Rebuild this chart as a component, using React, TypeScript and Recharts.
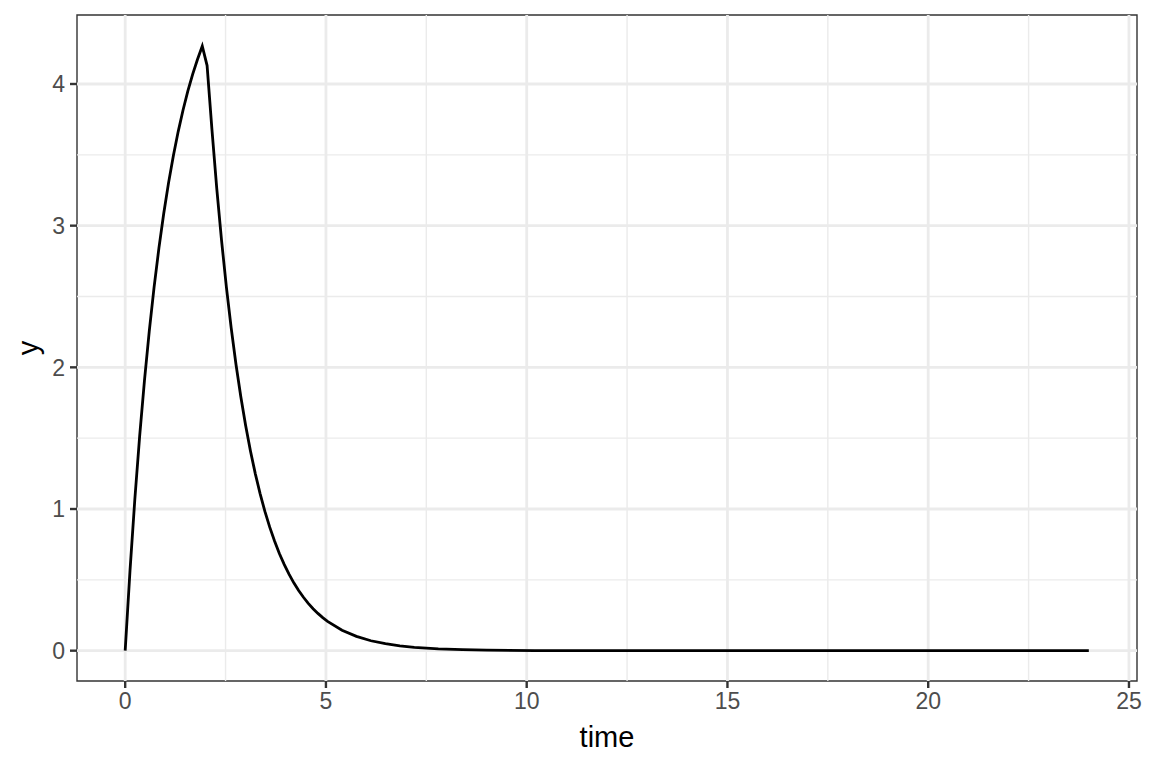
import {
  LineChart,
  Line,
  XAxis,
  YAxis,
  ReferenceLine,
  ReferenceArea,
  Label,
} from "recharts";

// time points of the simulated curve (denser where it bends)
const times = [
  0, 0.12, 0.24, 0.36, 0.48, 0.6, 0.72, 0.84, 0.96, 1.08, 1.2, 1.32, 1.44,
  1.56, 1.68, 1.8, 1.92, 2.04, 2.16, 2.28, 2.4, 2.52, 2.64, 2.76, 2.88, 3.0,
  3.12, 3.24, 3.36, 3.48, 3.6, 3.72, 3.84, 3.96, 4.08, 4.2, 4.32, 4.44, 4.56,
  4.68, 4.8, 4.92, 5.04, 5.4, 5.76, 6.12, 6.48, 6.84, 7.2, 7.8, 8.4, 9.0,
  10.2, 12, 24,
];

const yValues = [
  0, 0.565, 1.067, 1.512, 1.906, 2.256, 2.566, 2.841, 3.086, 3.302, 3.494,
  3.664, 3.815, 3.949, 4.068, 4.173, 4.267, 4.13, 3.681, 3.265, 2.896, 2.568,
  2.278, 2.02, 1.792, 1.589, 1.41, 1.25, 1.109, 0.983, 0.872, 0.774, 0.686,
  0.609, 0.54, 0.479, 0.425, 0.377, 0.334, 0.296, 0.263, 0.233, 0.207, 0.144,
  0.101, 0.07, 0.049, 0.034, 0.024, 0.013, 0.007, 0.004, 0.001, 0, 0,
];

const xTicks = [0, 5, 10, 15, 20, 25];
const xMinor = [2.5, 7.5, 12.5, 17.5, 22.5];
const yTicks = [0, 1, 2, 3, 4];
const yMinor = [0.5, 1.5, 2.5, 3.5];

const xDomain: [number, number] = [-1.2, 25.2];
const yDomain: [number, number] = [-0.214, 4.487];

const data = times.map((t, i) => ({ time: t, y: yValues[i] }));

const GRID = "#EBEBEB";
const DARK = "#333333";

export default function App() {
  return (
    <div
      style={{
        position: "absolute",
        left: 0,
        top: 0,
        width: 1152,
        height: 768,
        background: "#fff",
        fontFamily: "'Liberation Sans', Arial, sans-serif",
      }}
    >
      <LineChart
        width={1152}
        height={768}
        data={data}
        margin={{ top: 15, right: 15, bottom: 0, left: 0 }}
      >
        {xMinor.map((v) => (
          <ReferenceLine key={"xm" + v} x={v} stroke={GRID} strokeWidth={1.4} />
        ))}
        {yMinor.map((v) => (
          <ReferenceLine key={"ym" + v} y={v} stroke={GRID} strokeWidth={1.4} />
        ))}
        {xTicks.map((v) => (
          <ReferenceLine key={"xM" + v} x={v} stroke={GRID} strokeWidth={2.8} />
        ))}
        {yTicks.map((v) => (
          <ReferenceLine key={"yM" + v} y={v} stroke={GRID} strokeWidth={2.8} />
        ))}
        <XAxis
          dataKey="time"
          type="number"
          domain={xDomain}
          ticks={xTicks}
          height={87}
          axisLine={false}
          tickLine={{ stroke: DARK, strokeWidth: 2.4 }}
          tickSize={7}
          tickMargin={5}
          tick={{ fill: "#4D4D4D", fontSize: 23 }}
        >
          <Label
            value="time"
            position="insideBottom"
            offset={21}
            style={{ fill: "#000", fontSize: 29 }}
          />
        </XAxis>
        <YAxis
          type="number"
          domain={yDomain}
          ticks={yTicks}
          width={77}
          axisLine={false}
          tickLine={{ stroke: DARK, strokeWidth: 2.4 }}
          tickSize={7}
          tickMargin={5}
          tick={{ fill: "#4D4D4D", fontSize: 23 }}
        >
          <Label
            value="y"
            angle={-90}
            position="insideLeft"
            offset={28}
            style={{ fill: "#000", fontSize: 29, textAnchor: "middle" }}
          />
        </YAxis>
        <Line
          type="linear"
          dataKey="y"
          stroke="#000"
          strokeWidth={2.8}
          dot={false}
          isAnimationActive={false}
        />
        <ReferenceArea
          x1={xDomain[0]}
          x2={xDomain[1]}
          y1={yDomain[0]}
          y2={yDomain[1]}
          fill="none"
          fillOpacity={0}
          stroke={DARK}
          strokeWidth={1.4}
        />
      </LineChart>
    </div>
  );
}
